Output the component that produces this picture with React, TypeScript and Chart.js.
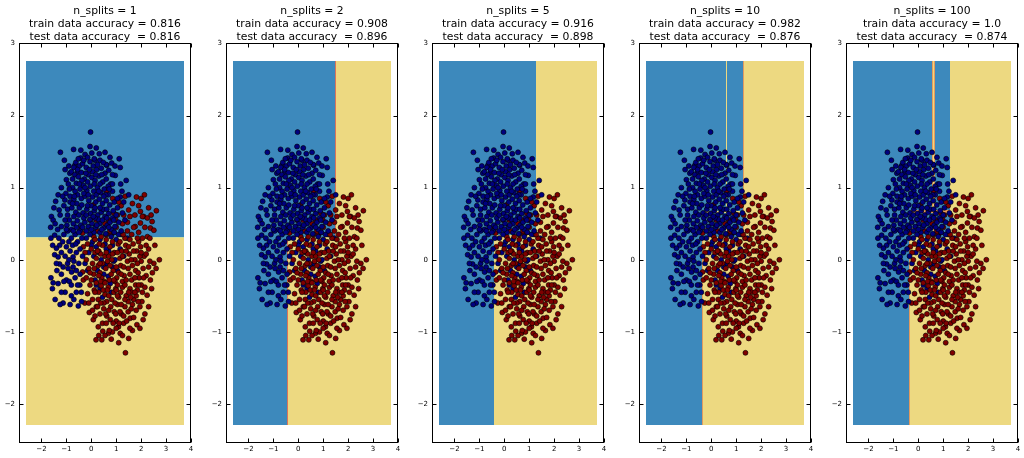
import React, { useEffect, useRef } from 'react';
import { Chart, registerables } from 'chart.js';

Chart.register(...registerables);

// ---- axis limits / ticks ----
const X_LIMITS = [-2.9, 4];
const Y_LIMITS = [-2.54, 3];
const X_TICKS = [-2, -1, 0, 1, 2, 3, 4];
const Y_TICKS = [-2, -1, 0, 1, 2, 3];

// ---- mesh (decision surface) extent ----
const X0 = -2.63;
const X1 = 3.73;
const Y0 = -2.29;
const Y1 = 2.76;

// ---- titles ----
const N_SPLITS = ['1', '2', '5', '10', '100'];
const TRAIN_ACC = ['0.816', '0.908', '0.916', '0.982', '1.0'];
const TEST_ACC = ['0.816', '0.896', '0.898', '0.876', '0.874'];

// ---- decision regions: [x0, x1, y0, y1, class] (0 = blue class, 1 = yellow class, 2 = boundary band) ----
const REGIONS_1 = [[X0, X1, 0.31, Y1, 0]];
const REGIONS_2 = [
  [X0, -0.46, Y0, Y1, 0],
  [X0, 1.47, 0.31, Y1, 0],
];
const REGIONS_3 = [
  [X0, -0.4, Y0, Y1, 0],
  [X0, 1.29, 0.35, Y1, 0],
];
const REGIONS_4 = [
  [X0, -0.37, Y0, Y1, 0],
  [X0, 1.26, 0.31, Y1, 0],
  [0.59, 0.63, 0.67, Y1, 1],
  [-0.37, 1.26, 0.655, 0.68, 1],
  [0.6, 0.63, 0.05, 0.67, 1],
  [-0.37, 0.6, 0.42, 0.44, 1],
];
const REGIONS_5 = [
  [X0, -0.37, Y0, Y1, 0],
  [X0, 1.28, 0.31, Y1, 0],
  [0.57, 0.67, 0.66, Y1, 2],
  [0.6, 0.64, 0.66, Y1, 1],
  [-0.3, 1.26, 0.65, 0.685, 2],
  [0.6, 0.64, 0.05, 0.66, 2],
  [-0.33, 0.6, 0.42, 0.44, 1],
];
const REGIONS = [REGIONS_1, REGIONS_2, REGIONS_3, REGIONS_4, REGIONS_5];

// boundary lines: [xa, ya, xb, yb]
const EDGES_1 = [[X0, 0.31, X1, 0.31]];
const EDGES_2 = [[1.47, 0.31, 1.47, Y1], [-0.46, Y0, -0.46, 0.31]];
const EDGES_3: number[][] = [];
const EDGES_4 = [[1.26, 0.31, 1.26, Y1], [-0.37, Y0, -0.37, 0.31]];
const EDGES_5 = [[-0.37, Y0, -0.37, 0.31]];
const EDGES = [EDGES_1, EDGES_2, EDGES_3, EDGES_4, EDGES_5];

// ---- sample points ----
const BLUE_POINTS = [
  [-0.03, 1.77], [-1.24, 1.49], [-0.71, 1.53], [-0.05, 1.57], [-0.25, 1.46], [0.32, 1.47], [0.55, 1.49], [1.12, 1.4],
  [-0.43, 1.41], [0.15, 1.38], [0.62, 1.31], [0.82, 1.34], [1.16, 1.28], [0.96, 1.17], [-0.66, 1.31], [-0.86, 1.2],
  [-1.0, 1.11], [-0.55, 1.22], [1.23, 0.95], [1.16, 0.87], [1.5, 0.9], [-1.33, 0.9], [-1.43, 0.81], [-1.06, 0.83],
  [1.4, 1.1], [-1.2, 1.0],
  [-0.62, 1.35], [-0.48, 1.3], [-0.35, 1.33], [-0.2, 1.28], [-0.05, 1.36], [0.08, 1.3], [0.22, 1.25], [0.4, 1.27],
  [0.55, 1.2], [0.7, 1.24], [-0.8, 1.22], [-0.66, 1.18], [-0.52, 1.15], [-0.4, 1.21], [-0.28, 1.12], [-0.12, 1.18],
  [0.02, 1.14], [0.15, 1.1], [0.3, 1.16], [0.46, 1.08], [0.6, 1.12], [0.78, 1.05], [-0.92, 1.05], [-0.75, 1.0],
  [-0.6, 1.06], [-0.45, 0.98], [-0.32, 1.03], [-0.18, 0.96], [-0.04, 1.02], [0.1, 0.95], [0.25, 1.0], [0.38, 0.93],
  [0.52, 0.98], [0.68, 0.9], [0.85, 0.95], [-1.02, 0.92], [-0.85, 0.88], [-0.7, 0.84], [-0.55, 0.9], [-0.4, 0.85],
  [-0.25, 0.88], [-0.1, 0.82], [0.05, 0.87], [0.18, 0.8], [0.32, 0.84], [0.45, 0.78], [0.6, 0.82], [0.74, 0.76],
  [0.92, 0.8], [1.05, 0.72], [-1.1, 0.75], [-0.95, 0.7], [-0.78, 0.72], [-0.62, 0.66], [-0.48, 0.72], [-0.33, 0.65],
  [-0.18, 0.7], [-0.03, 0.64], [0.12, 0.68], [0.26, 0.62], [0.4, 0.66], [0.55, 0.6], [0.7, 0.64], [0.86, 0.58],
  [1.0, 0.62], [-0.88, 0.55], [-0.72, 0.5], [-0.56, 0.54], [-0.42, 0.48], [-0.26, 0.52], [-0.12, 0.46], [0.03, 0.5],
  [0.18, 0.45], [0.34, 0.5], [0.5, 0.44], [0.64, 0.48], [0.8, 0.42], [0.95, 0.46], [-0.7, 1.28], [-0.15, 1.42],
  [0.12, 1.4], [0.35, 1.38], [-0.55, 1.25], [0.6, 1.32], [0.85, 1.18], [-0.3, 0.92], [0.2, 0.9], [-0.65, 0.95],
  [0.0, 0.75], [0.48, 0.7], [-0.5, 0.62], [-0.05, 0.56], [0.28, 0.56], [0.75, 0.52], [-0.95, 0.62], [-0.2, 0.4],
  [0.1, 0.38], [0.58, 0.36], [1.1, 0.52], [1.2, 0.4],
  [-0.75, 1.12], [-0.38, 1.1], [0.05, 1.22], [0.42, 1.18], [0.68, 1.02], [-0.85, 0.8], [-0.58, 0.78], [-0.15, 0.75],
  [0.35, 0.72], [0.62, 0.7], [0.88, 0.68], [-0.7, 0.6], [-0.3, 0.58], [0.15, 0.58], [0.45, 0.55], [-0.45, 0.4],
  [0.0, 0.42], [0.35, 0.38], [0.8, 0.32], [-0.98, 0.48], [-0.22, 1.2], [0.25, 1.32], [-0.48, 1.05], [0.12, 1.05],
  [0.58, 0.9], [-0.12, 0.9], [-0.38, 0.76], [0.08, 0.6], [0.92, 0.38], [1.05, 0.85],
  [-0.9, 1.3], [-0.42, 1.52], [0.2, 1.55], [0.75, 1.42], [-1.05, 1.25], [-0.3, 1.38], [0.48, 1.35], [0.95, 1.3],
  [-0.15, 1.08], [0.35, 1.05], [-0.68, 0.88], [0.72, 0.98], [1.18, 1.05], [-1.15, 0.88], [0.5, 0.88], [-0.88, 0.98],
  [-0.2, 0.62], [0.62, 0.58], [1.25, 0.65], [-0.6, 0.45], [0.22, 0.48], [1.3, 0.8], [-1.25, 0.62], [-0.08, 1.25],
  [0.18, 1.18], [0.9, 0.55], [-0.35, 0.45], [0.42, 0.42], [-0.8, 0.42], [1.35, 0.55], [-1.08, 1.38], [0.02, 1.48],
  [-0.52, 1.4], [0.85, 1.05], [-0.25, 1.0], [0.3, 0.95], [-0.75, 0.78], [0.15, 0.72], [0.7, 0.45], [-0.05, 0.35],
  [-1.6, 0.6], [-1.53, 0.55], [-1.29, 0.69], [-1.2, 0.46], [-1.47, 0.34], [-1.27, 0.2], [-1.4, 0.16], [-1.47, 0.07],
  [-1.33, 0.04], [-1.0, 0.18], [-0.73, 0.04], [-1.13, -0.1], [-0.93, -0.12], [-0.79, -0.17], [-1.27, -0.06], [-0.73, -0.1],
  [-1.53, -0.32], [-1.33, -0.33], [-1.56, -0.4], [-1.0, -0.28], [-0.46, -0.35], [-1.13, -0.6], [-0.52, -0.64], [-0.39, -0.58],
  [-1.1, 0.35], [-0.95, 0.4], [-0.8, 0.3], [-0.65, 0.35], [-0.55, 0.25], [-0.85, 0.12], [-0.6, 0.1], [-1.15, 0.25],
  [-0.45, 0.15], [-0.7, -0.02], [-0.5, -0.05], [-0.88, -0.3], [-0.65, -0.25], [-1.2, -0.2], [-1.05, -0.45], [-0.8, -0.5],
  [-0.6, -0.45], [-1.35, 0.42], [-1.05, 0.55], [-0.38, 0.3], [-0.9, 0.25], [-1.63, 0.45], [-1.62, -0.25], [-0.85, -0.62],
  [-1.2, -0.45], [-1.62, 0.3],
  [-1.45, 0.5], [-1.3, 0.3], [-1.2, 0.1], [-1.55, 0.2], [-1.38, -0.15], [-1.1, -0.3], [-0.95, -0.05], [-0.75, 0.2],
  [-0.6, -0.15], [-0.45, -0.2], [-0.35, 0.05], [-0.9, 0.0], [-1.45, -0.55], [-1.25, -0.62], [-0.7, -0.55], [-0.55, -0.35],
  [-0.4, -0.45], [-1.0, 0.42], [-0.72, 0.4], [-1.5, 0.72], [-1.4, -0.05], [-1.05, 0.05], [-0.8, -0.35], [-0.62, 0.22],
  [-0.5, 0.38],
];

const RED_POINTS = [
  [2.13, 0.9], [1.81, 0.87], [1.36, 0.88], [2.61, 0.68], [1.97, 0.67], [2.1, 0.6], [1.5, 0.69], [0.62, 0.94],
  [0.86, 0.85], [0.08, 0.76], [1.2, 0.75], [1.65, 0.78], [2.3, 0.72], [1.05, 0.62], [1.75, 0.62], [0.4, 0.7],
  [2.44, 0.53], [2.37, 0.44], [2.51, 0.41], [1.76, 0.46], [1.97, 0.51], [-0.05, 0.55], [-0.39, 0.45], [-0.35, 0.37],
  [0.25, 0.4], [0.55, 0.5], [0.8, 0.35], [1.0, 0.45], [1.25, 0.5], [1.45, 0.4], [1.62, 0.35], [1.9, 0.38],
  [2.15, 0.45], [2.25, 0.32], [0.1, 0.32], [0.7, 0.55], [1.35, 0.3], [2.05, 0.3],
  [-0.32, 0.18], [-0.15, 0.22], [0.0, 0.15], [0.15, 0.28], [0.3, 0.12], [0.45, 0.2], [0.6, 0.28], [0.75, 0.18],
  [0.92, 0.1], [1.08, 0.22], [1.22, 0.12], [1.38, 0.2], [1.52, 0.08], [1.68, 0.22], [1.82, 0.12], [1.98, 0.18],
  [2.12, 0.05], [2.3, 0.15], [2.73, 0.0], [2.51, -0.05], [0.2, 0.02], [0.55, 0.05], [0.82, 0.0], [1.15, 0.02],
  [1.45, -0.02], [1.75, 0.0], [2.0, -0.02], [-0.2, 0.0], [0.05, -0.05], [0.38, 0.08],
  [2.3, -0.1], [2.37, -0.28], [-0.35, -0.17], [-0.32, -0.28], [-0.1, -0.12], [0.1, -0.2], [0.28, -0.08], [0.42, -0.25],
  [0.58, -0.12], [0.72, -0.28], [0.88, -0.15], [1.02, -0.25], [1.18, -0.08], [1.32, -0.22], [1.48, -0.12], [1.62, -0.28],
  [1.78, -0.15], [1.92, -0.25], [2.08, -0.12], [2.2, -0.22], [0.0, -0.28], [0.35, -0.18], [0.65, -0.02], [0.95, -0.3],
  [1.25, -0.3], [1.55, -0.2], [1.85, -0.05], [2.45, -0.18], [-0.2, -0.25], [0.8, -0.2],
  [2.24, -0.49], [2.03, -0.58], [-0.26, -0.6], [-0.15, -0.47], [-0.05, -0.35], [0.12, -0.42], [0.28, -0.55], [0.4, -0.36],
  [0.55, -0.48], [0.68, -0.38], [0.82, -0.55], [0.98, -0.4], [1.1, -0.52], [1.25, -0.38], [1.4, -0.5], [1.55, -0.4],
  [1.7, -0.55], [1.85, -0.42], [2.0, -0.35], [2.15, -0.38], [0.2, -0.32], [0.62, -0.58], [0.9, -0.45], [1.18, -0.45],
  [1.48, -0.58], [1.78, -0.35], [0.05, -0.55], [0.48, -0.42], [1.05, -0.35], [1.62, -0.45],
  [2.08, -0.83], [1.83, -0.9], [1.56, -0.81], [1.09, -0.93], [0.76, -0.83], [0.28, -0.93], [0.08, -0.83], [-0.08, -0.73],
  [0.2, -0.65], [0.35, -0.75], [0.5, -0.68], [0.62, -0.78], [0.78, -0.65], [0.92, -0.72], [1.05, -0.62], [1.2, -0.75],
  [1.35, -0.65], [1.48, -0.72], [1.65, -0.62], [1.8, -0.7], [1.95, -0.65], [0.45, -0.88], [1.0, -0.85], [1.3, -0.88],
  [1.7, -0.8], [0.15, -0.78],
  [1.5, -1.09], [1.16, -1.02], [0.69, -1.02], [0.46, -0.99], [0.19, -1.11], [0.42, -1.11], [1.37, -1.29], [0.85, -1.0],
  [1.0, -0.95], [0.55, -1.05], [1.25, -1.05],
  [0.52, -0.3], [0.7, 0.05], [1.1, -0.18], [1.4, 0.12], [0.85, 0.25], [1.6, 0.0], [0.3, -0.45], [1.3, -0.1],
  [0.95, -0.6], [1.75, -0.25], [0.15, 0.1], [1.9, 0.25], [2.05, -0.45], [0.6, 0.35], [1.2, -0.62],
  [0.45, -0.05], [0.75, -0.08], [1.05, 0.1], [1.35, -0.35], [1.7, 0.12], [0.25, -0.65], [0.58, -0.75], [0.88, -0.88],
  [1.15, -0.72], [1.42, -0.85], [1.58, -0.52], [1.88, -0.58], [2.2, 0.08], [0.12, -0.12], [0.38, -0.3], [0.7, -0.5],
  [1.0, -0.1], [1.28, 0.35], [1.55, 0.28], [1.95, 0.05], [0.9, 0.38], [0.32, 0.22], [2.35, 0.3], [1.12, -0.88],
  [0.72, -0.98], [1.88, -0.18], [1.65, -0.98], [0.98, -0.75], [0.5, -0.6], [1.4, -0.28],
  [1.55, 0.6], [1.9, 0.75], [2.25, 0.58], [0.9, 0.65], [1.3, 0.62], [2.0, 0.85], [1.1, 0.8], [2.55, 0.2],
  [2.6, -0.12], [2.42, -0.4], [2.3, -0.65], [2.15, -0.75], [1.95, -0.95], [0.6, 0.1], [0.35, -0.05], [0.9, -0.28],
  [1.2, -0.2], [1.5, -0.45], [1.8, -0.5], [0.15, -0.45], [-0.1, -0.6], [0.05, -0.7], [0.38, -0.6], [0.7, -0.7],
  [1.05, -0.5], [1.35, -0.55], [1.6, -0.68], [1.9, -0.35], [2.1, -0.25], [0.4, 0.32], [0.75, 0.4], [1.15, 0.25],
  [1.5, 0.18], [1.85, 0.3], [2.2, 0.2], [0.25, 0.12], [0.55, -0.32], [0.85, 0.08], [1.25, 0.05], [1.65, -0.08],
  [2.0, 0.1], [-0.25, 0.1], [-0.05, -0.18], [0.3, -0.22], [0.65, -0.42], [1.0, -0.42], [1.3, -0.78], [1.55, -0.95],
  [0.8, -1.1], [0.3, -1.05], [1.1, -1.15], [0.6, -0.88], [1.75, -0.45], [2.35, -0.02], [1.45, 0.52], [0.98, 0.55],
  [0.2, 0.55], [1.7, 0.45], [2.05, 0.6], [2.4, 0.62],
];

// blue points lying among the red cloud
const BLUE_OVERLAP_POINTS = [
  [-0.2, 0.3], [0.05, 0.25], [0.2, 0.18], [0.35, 0.28], [0.55, 0.22], [0.7, 0.12], [0.85, 0.2], [1.0, 0.28],
  [1.16, 0.15], [1.3, 0.05], [0.1, 0.05], [0.4, 0.0], [0.62, -0.05], [0.9, -0.02], [0.25, -0.15], [0.5, -0.2],
  [0.76, -0.33], [0.68, -0.23], [0.35, -0.4], [0.15, -0.28], [-0.1, 0.1], [-0.25, -0.05], [1.45, 0.3], [1.2, 0.35],
  [0.95, 0.0], [0.8, -0.45], [0.45, -0.52], [1.05, -0.15], [0.0, 0.2], [0.3, 0.1], [0.6, 0.15], [1.1, 0.35],
  [0.5, -0.1], [0.2, -0.35], [0.85, -0.1], [-0.15, -0.15],
];

const REGION_COLORS = ['#3d89bc', '#edd981', '#e89a5c'];
const MESH_COLOR = '#edd981';
const EDGE_COLORS = ['#c8dba0', '#d9745b', '#e39a5f', '#e39a5f', '#e39a5f'];
const BLUE_MARK = '#00007f';
const RED_MARK = '#7f0000';
const FONT = 'DejaVu Sans';

const minusFmt = (v: number | string) => String(v).replace('-', '\u2212');

function Panel({ index }: { index: number }) {
  const ref = useRef<HTMLCanvasElement>(null);

  useEffect(() => {
    const regions = REGIONS[index];
    const edges = EDGES[index];
    const toPts = (arr: number[][]) => arr.map(([x, y]) => ({ x, y }));

    const surfacePlugin = {
      id: 'surface' + index,
      beforeDatasetsDraw(chart: any) {
        const { ctx, scales } = chart;
        const sx = scales.x;
        const sy = scales.y;
        const rect = (x0: number, x1: number, y0: number, y1: number, color: string) => {
          const a = sx.getPixelForValue(x0);
          const b = sx.getPixelForValue(x1);
          const c = sy.getPixelForValue(y0);
          const d = sy.getPixelForValue(y1);
          const l = Math.round(Math.min(a, b));
          let r = Math.round(Math.max(a, b));
          const t = Math.round(Math.min(c, d));
          let bt = Math.round(Math.max(c, d));
          if (r - l < 1) r = l + 1;
          if (bt - t < 1) bt = t + 1;
          ctx.fillStyle = color;
          ctx.fillRect(l, t, r - l, bt - t);
        };
        ctx.save();
        rect(X0, X1, Y0, Y1, MESH_COLOR);
        for (const r of regions) rect(r[0], r[1], r[2], r[3], REGION_COLORS[r[4]]);
        ctx.strokeStyle = EDGE_COLORS[index];
        ctx.lineWidth = 1;
        for (const e of edges) {
          const xa = Math.round(sx.getPixelForValue(e[0]));
          const xb = Math.round(sx.getPixelForValue(e[2]));
          const ya = Math.round(sy.getPixelForValue(e[1]));
          const yb = Math.round(sy.getPixelForValue(e[3]));
          ctx.beginPath();
          if (xa === xb) {
            ctx.moveTo(xa + 0.5, ya);
            ctx.lineTo(xb + 0.5, yb);
          } else {
            ctx.moveTo(xa, ya + 0.5);
            ctx.lineTo(xb, yb + 0.5);
          }
          ctx.stroke();
        }
        ctx.restore();
      },
      afterDraw(chart: any) {
        const { ctx, chartArea: a, scales } = chart;
        const sx = scales.x;
        const sy = scales.y;
        const L = Math.round(a.left) + 0.5;
        const R = Math.round(a.right) - 0.5;
        const T = Math.round(a.top) + 0.5;
        const B = Math.round(a.bottom) - 0.5;
        ctx.save();
        ctx.strokeStyle = '#000';
        ctx.lineWidth = 1;
        ctx.beginPath();
        for (const v of X_TICKS) {
          const p = Math.round(sx.getPixelForValue(v)) + 0.5;
          ctx.moveTo(p, B);
          ctx.lineTo(p, B - 4);
          ctx.moveTo(p, T);
          ctx.lineTo(p, T + 4);
        }
        for (const v of Y_TICKS) {
          const p = Math.round(sy.getPixelForValue(v)) + 0.5;
          ctx.moveTo(L, p);
          ctx.lineTo(L + 4, p);
          ctx.moveTo(R, p);
          ctx.lineTo(R - 4, p);
        }
        ctx.stroke();
        ctx.strokeRect(L, T, R - L, B - T);
        ctx.restore();
      },
    };

    const pointStyle = (color: string) => ({
      backgroundColor: color,
      borderColor: '#000',
      pointBackgroundColor: color,
      pointBorderColor: '#000',
      pointBorderWidth: 0.6,
      pointRadius: 2.5,
    });

    const chart = new Chart(ref.current as HTMLCanvasElement, {
      type: 'scatter',
      data: {
        datasets: [
          { label: 'class 0', data: toPts(BLUE_POINTS), ...pointStyle(BLUE_MARK) },
          { label: 'class 1', data: toPts(RED_POINTS), ...pointStyle(RED_MARK) },
          { label: 'class 0 (overlap)', data: toPts(BLUE_OVERLAP_POINTS), ...pointStyle(BLUE_MARK) },
        ],
      },
      options: {
        animation: false,
        responsive: false,
        devicePixelRatio: 1,
        events: [],
        layout: { padding: 0 },
        plugins: {
          legend: { display: false },
          tooltip: { enabled: false },
          title: {
            display: true,
            text: [
              'n_splits = ' + N_SPLITS[index],
              'train data accuracy = ' + TRAIN_ACC[index],
              'test data accuracy  = ' + TEST_ACC[index],
            ],
            color: '#000',
            font: { family: FONT, size: 10.8, weight: 'normal', lineHeight: 1.2 },
            padding: { top: 4.5, bottom: 0 },
          },
        },
        scales: {
          x: {
            type: 'linear',
            min: X_LIMITS[0],
            max: X_LIMITS[1],
            grid: { display: false, drawTicks: false },
            border: { display: false },
            ticks: {
              color: '#000',
              font: { family: FONT, size: 7 },
              padding: 2,
              maxRotation: 0,
              autoSkip: false,
              includeBounds: false,
              callback: (v: any) => minusFmt(v),
            },
            afterBuildTicks: (s: any) => {
              s.ticks = X_TICKS.map((v) => ({ value: v }));
            },
            afterFit: (s: any) => {
              s.height = 15;
            },
          },
          y: {
            type: 'linear',
            position: 'left',
            min: Y_LIMITS[0],
            max: Y_LIMITS[1],
            grid: { display: false, drawTicks: false },
            border: { display: false },
            ticks: {
              color: '#000',
              font: { family: FONT, size: 7 },
              padding: 4,
              autoSkip: false,
              includeBounds: false,
              callback: (v: any) => minusFmt(v),
            },
            afterBuildTicks: (s: any) => {
              s.ticks = Y_TICKS.map((v) => ({ value: v }));
            },
            afterFit: (s: any) => {
              s.width = 19;
            },
          },
          yRight: {
            type: 'linear',
            position: 'right',
            min: Y_LIMITS[0],
            max: Y_LIMITS[1],
            grid: { display: false, drawTicks: false },
            border: { display: false },
            ticks: { display: false },
            afterFit: (s: any) => {
              s.width = 19;
            },
          },
        },
      } as any,
      plugins: [surfacePlugin],
    });
    return () => chart.destroy();
  }, [index]);

  return (
    <canvas
      ref={ref}
      width={210}
      height={458}
      style={{ position: 'absolute', left: Math.round(206.7 * index), top: 0, width: 210, height: 458 }}
    />
  );
}

export default function App() {
  return (
    <div
      style={{
        position: 'absolute',
        left: 0,
        top: 0,
        width: 1024,
        height: 458,
        overflow: 'hidden',
        background: '#fff',
      }}
    >
      {[0, 1, 2, 3, 4].map((i) => (
        <Panel key={i} index={i} />
      ))}
    </div>
  );
}
